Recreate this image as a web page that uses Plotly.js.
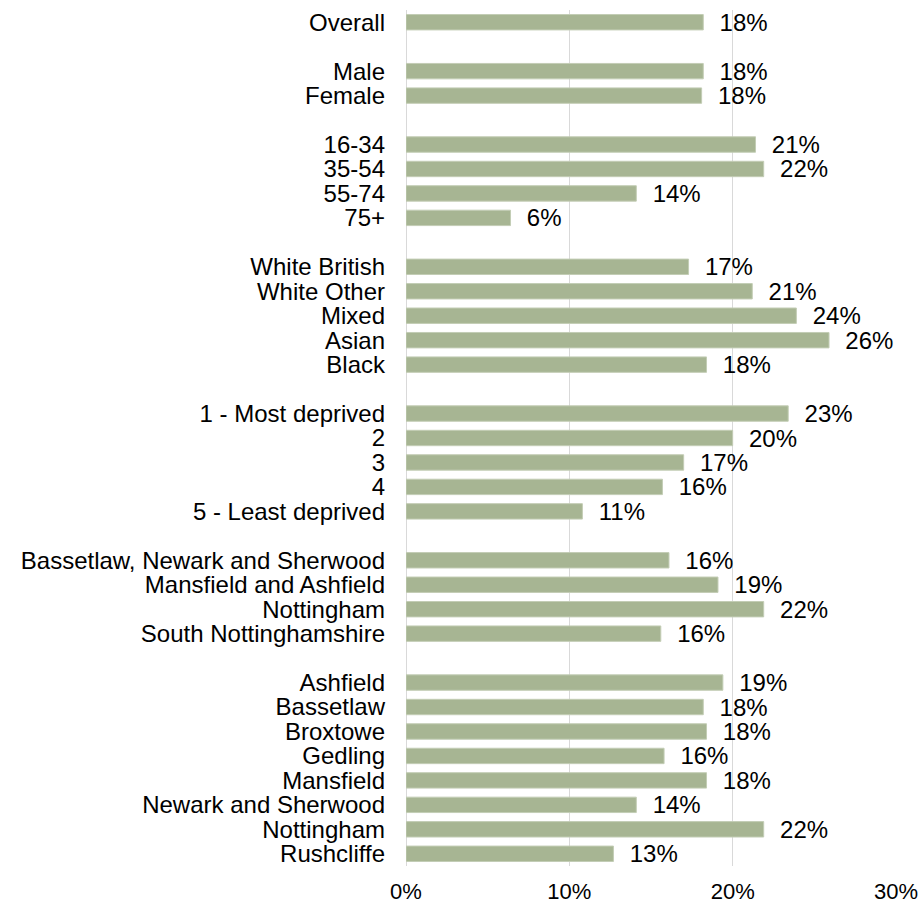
<!DOCTYPE html>
<html>
<head>
<meta charset="utf-8">
<script src="https://cdn.plot.ly/plotly-3.0.1.min.js"></script>
<style>html,body{margin:0;padding:0;background:#fff;}#chart{width:923px;height:904px;}</style>
</head>
<body>
<div id="chart"></div>
<script>
// Row labels ("" = blank spacer row between groups)
const categories = [
  "Overall", "",
  "Male", "Female", "",
  "16-34", "35-54", "55-74", "75+", "",
  "White British", "White Other", "Mixed", "Asian", "Black", "",
  "1 - Most deprived", "2", "3", "4", "5 - Least deprived", "",
  "Bassetlaw, Newark and Sherwood", "Mansfield and Ashfield", "Nottingham", "South Nottinghamshire", "",
  "Ashfield", "Bassetlaw", "Broxtowe", "Gedling", "Mansfield", "Newark and Sherwood", "Nottingham", "Rushcliffe"
];
// Percent values (null = spacer row)
const values = [
  18.2, null,
  18.2, 18.1, null,
  21.4, 21.9, 14.1, 6.4, null,
  17.3, 21.2, 23.9, 25.9, 18.4, null,
  23.4, 20.0, 17.0, 15.7, 10.8, null,
  16.1, 19.1, 21.9, 15.6, null,
  19.4, 18.2, 18.4, 15.8, 18.4, 14.1, 21.9, 12.7
];
const xTicks = [0, 10, 20, 30];

const rowIndex = categories.map((c, i) => i);
const FONT = "Liberation Sans, Arial, sans-serif";

const trace = {
  type: "bar",
  orientation: "h",
  x: values,
  y: rowIndex,
  width: 0.63,
  marker: {color: "#a7b593", line: {color: "#c3cdb5", width: 1}},
  texttemplate: "\u00a0\u00a0%{x:.0f}%",
  textposition: "outside",
  textangle: 0,
  constraintext: "none",
  cliponaxis: false,
  textfont: {family: FONT, size: 24, color: "#000"},
  hoverinfo: "none"
};

const layout = {
  width: 923,
  height: 904,
  margin: {l: 405.5, r: 27, t: 9.5, b: 38, pad: 0},
  paper_bgcolor: "#fff",
  plot_bgcolor: "#fff",
  showlegend: false,
  font: {family: FONT, size: 24, color: "#000"},
  xaxis: {
    range: [0, 30],
    tickvals: xTicks,
    ticktext: xTicks.map(v => v + "%"),
    showgrid: true,
    gridcolor: "#d9d9d9",
    gridwidth: 1,
    zeroline: true,
    zerolinecolor: "#d9d9d9",
    zerolinewidth: 1,
    showline: false,
    ticks: "",
    ticklabelstandoff: 10,
    tickfont: {family: FONT, size: 22, color: "#000"},
    fixedrange: true
  },
  yaxis: {
    range: [categories.length - 0.5, -0.5],
    tickvals: rowIndex,
    ticktext: categories,
    showgrid: false,
    zeroline: false,
    showline: false,
    ticks: "",
    ticklabelstandoff: 20,
    tickfont: {family: FONT, size: 24, color: "#000"},
    fixedrange: true
  }
};

Plotly.newPlot("chart", [trace], layout, {displayModeBar: false, staticPlot: true});
</script>
</body>
</html>
